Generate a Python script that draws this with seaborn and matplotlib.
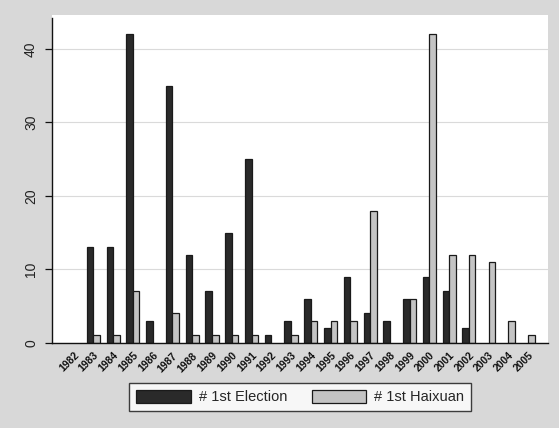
import matplotlib
matplotlib.use("Agg")
import matplotlib.pyplot as plt
import seaborn as sns
import pandas as pd

years = [str(y) for y in range(1982, 2006)]
election = [0, 13, 13, 42, 3, 35, 12, 7, 15, 25, 1, 3, 6, 2, 9, 4, 3, 6, 9, 7, 2, 0, 0, 0]
haixuan = [0, 1, 1, 7, 0, 4, 1, 1, 1, 1, 0, 1, 3, 3, 3, 18, 0, 6, 42, 12, 12, 11, 3, 1]
series = ["# 1st Election", "# 1st Haixuan"]
colors = ["#2a2a2a", "#c4c4c4"]

df = pd.DataFrame({
    "year": years * 2,
    "count": election + haixuan,
    "series": [series[0]] * len(years) + [series[1]] * len(years),
})

sns.set_style("white")
plt.rcParams["font.family"] = ["Liberation Sans", "DejaVu Sans"]

fig = plt.figure(figsize=(5.59, 4.28), dpi=100, facecolor="#d8d8d8")
ax = fig.add_axes([0.093, 0.199, 0.887, 0.766])
ax.set_facecolor("white")

sns.barplot(data=df, x="year", y="count", hue="series", palette=colors,
            width=0.66, gap=0, edgecolor="#1a1a1a", linewidth=0.9,
            saturation=1, ax=ax, legend=True)

# hide outlines of zero-height bars
for p in ax.patches:
    if p.get_height() == 0:
        p.set_linewidth(0)

ax.set_xlim(-1.1, 24.0)
ax.set_ylim(0, 44.6)
ax.set_yticks([0, 10, 20, 30, 40])
ax.yaxis.grid(True, color="#dadada", linewidth=0.8)
ax.set_axisbelow(True)
for s in ["top", "right"]:
    ax.spines[s].set_visible(False)
for s in ["left", "bottom"]:
    ax.spines[s].set_color("#111111")
    ax.spines[s].set_linewidth(1.0)
ax.spines["left"].set_bounds(0, 44.2)

ax.tick_params(axis="y", which="both", left=True, length=5, width=0.9,
               color="#111111", labelsize=10, pad=5, labelcolor="#222222")
for lbl in ax.get_yticklabels():
    lbl.set_rotation(90)
    lbl.set_va("center")
ax.tick_params(axis="x", bottom=False, labelsize=7.5, pad=2, labelcolor="#111111")
ax.set_xticks(range(len(years)))
ax.set_xticklabels(years, rotation=45, ha="right", rotation_mode="anchor",
                   fontweight="bold")
ax.set_xlabel("")
ax.set_ylabel("")

handles, labels = ax.get_legend_handles_labels()
ax.get_legend().remove()
for h in handles:
    h.set_linewidth(0.9)
leg = fig.legend(handles, labels, loc="center", bbox_to_anchor=(0.537, 0.0724),
                 ncol=2, fontsize=10.5, frameon=True, fancybox=False,
                 edgecolor="#111111", handlelength=3.75, handleheight=1.0,
                 handletextpad=0.55, columnspacing=1.7, borderpad=0.45)
leg.get_frame().set_linewidth(1.0)
leg.get_frame().set_facecolor("white")

fig.savefig("out.png", dpi=100, facecolor=fig.get_facecolor())
